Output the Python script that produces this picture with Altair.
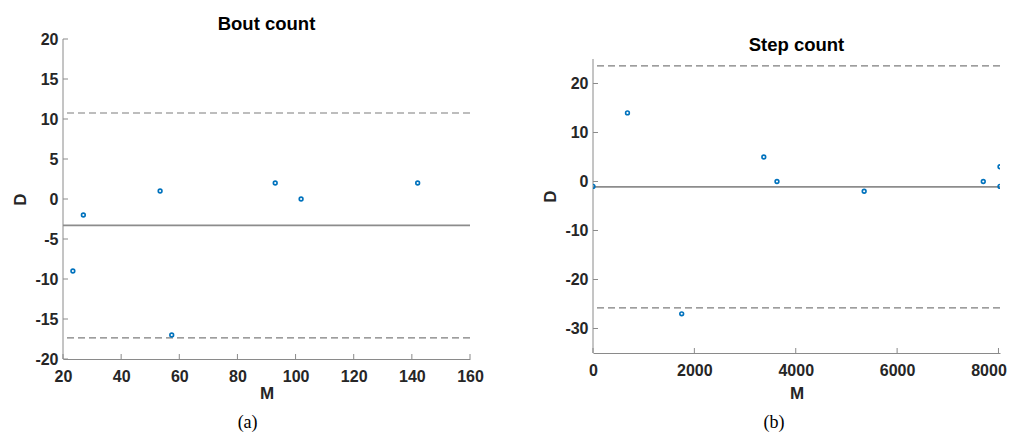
import altair as alt
import pandas as pd

# ---- Panel (a): Bout count ----
bout_M = [23.4, 27.0, 53.4, 57.4, 93.0, 101.9, 142.0]
bout_D = [-9, -2, 1, -17, 2, 0, 2]
bout_mean = [-3.3]
bout_limits = [10.75, -17.35]
bout_xticks = [20, 40, 60, 80, 100, 120, 140, 160]
bout_yticks = [-20, -15, -10, -5, 0, 5, 10, 15, 20]
bout_yrange = [-20, 20]

# ---- Panel (b): Step count ----
step_M = [0, 680, 1750, 3370, 3630, 5350, 7700, 8030, 8030]
step_D = [-1, 14, -27, 5, 0, -2, 0, 3, -1]
step_mean = [-1.1]
step_limits = [23.6, -25.8]
step_xticks = [0, 2000, 4000, 6000, 8000]
step_yticks = [-30, -20, -10, 0, 10, 20]
step_yrange = [-35, 25]

AXIS_GRAY = "#8a8a8a"
LINE_GRAY = "#8c8c8c"
BLUE = "#0072BD"
SANS = "Liberation Sans"
SERIF = "Liberation Serif"


def panel(M, D, mean, limits, xdom, ydom, yrange, xticks, yticks, title, caption,
          w, h, title_offset, m_pad, cap_offset, last_label_shift):
    pts = pd.DataFrame({"M": M, "D": D})
    xs = alt.Scale(domain=xdom, nice=False, zero=False)
    ys = alt.Scale(domain=ydom, nice=False, zero=False)
    common = dict(ticks=False, grid=False, domainColor=AXIS_GRAY, domainWidth=1,
                  labelFont=SANS, labelFontWeight="bold", labelFontSize=16,
                  labelColor="#262626", labelFlush=False, labelOverlap=False,
                  labelExpr="'' + datum.value",
                  titleFont=SANS, titleFontWeight="bold", titleFontSize=17,
                  titleColor="#262626")
    xax = alt.Axis(values=xticks, labelPadding=9, titlePadding=m_pad,
                   labelOffset={"condition": {"test": f"datum.value == {xticks[-1]}",
                                              "value": last_label_shift},
                                "value": 0},
                   **common)
    yax = alt.Axis(values=yticks, labelPadding=5, titlePadding=5, domain=False, **common)

    def X(field):
        return alt.X(field, scale=xs, axis=xax, title="M")

    def Y(field):
        return alt.Y(field, scale=ys, axis=yax, title="D")

    points = alt.Chart(pts).mark_point(shape="circle", filled=False, color=BLUE,
                                       size=14, strokeWidth=1.6, opacity=1, clip=True).encode(
        x=X("M:Q"), y=Y("D:Q"))
    mean_line = alt.Chart(pd.DataFrame({"v": mean})).mark_rule(
        color=LINE_GRAY, strokeWidth=1.6).encode(y=Y("v:Q"))
    lim_lines = alt.Chart(pd.DataFrame({"v": limits})).mark_rule(
        color="#7d7d7d", strokeWidth=1.2, strokeDash=[7, 4]).encode(y=Y("v:Q"))
    yline = alt.Chart(pd.DataFrame({"a": [yrange[0]], "b": [yrange[1]]})).mark_rule(
        color=AXIS_GRAY, strokeWidth=1).encode(y=Y("a:Q"), y2="b:Q", x=alt.value(0))
    ytk = alt.Chart(pd.DataFrame({"t": yticks})).mark_rule(color=AXIS_GRAY, strokeWidth=1).encode(
        y=Y("t:Q"), x=alt.value(0), x2=alt.value(5))
    xtk = alt.Chart(pd.DataFrame({"t": xticks})).mark_rule(color=AXIS_GRAY, strokeWidth=1).encode(
        x=X("t:Q"), y=alt.value(h), y2=alt.value(h - 5))

    layered = alt.layer(yline, ytk, xtk, lim_lines, mean_line, points).properties(
        width=w, height=h,
        view=alt.ViewBackground(stroke="transparent", strokeWidth=0),
        title=alt.TitleParams(title, font=SANS, fontSize=18.5, fontWeight="bold",
                              color="black", frame="group", anchor="middle",
                              offset=title_offset),
    )
    return alt.vconcat(layered).properties(
        title=alt.TitleParams(caption, orient="bottom", font=SERIF, fontSize=18,
                              fontWeight="normal", color="black", anchor="middle",
                              offset=cap_offset)
    )


# Panel (b) plot area is taller than its axis so that its axis sits lower, as in the figure.
a = panel(bout_M, bout_D, bout_mean, bout_limits, [20, 160], [-20, 20], bout_yrange,
          bout_xticks, bout_yticks, "Bout count", "(a)", 407, 320, -2, 1, 13, 0)
b = panel(step_M, step_D, step_mean, step_limits, [0, 8030], [-35, 29.08], step_yrange,
          step_xticks, step_yticks, "Step count", "(b)", 407, 314, -15, 7, 13, -10)

chart = alt.hconcat(a, b, spacing=57).properties(
    padding={"left": 3, "top": 6, "right": 0, "bottom": 0}
).configure(background="white").configure_view(strokeWidth=0, stroke="transparent")

chart.save("out.html", embed_options={"renderer": "svg", "actions": False})
